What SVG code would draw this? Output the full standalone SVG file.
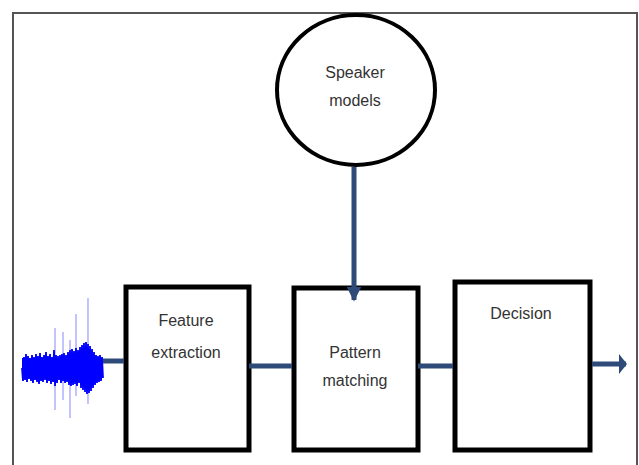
<svg xmlns="http://www.w3.org/2000/svg" width="639" height="465" viewBox="0 0 639 465">
<style>
.box{fill:#fff;stroke:#000;stroke-width:5}
.lbl{font-family:"Liberation Sans",Arial,sans-serif;font-size:16px;fill:#333;text-anchor:middle}
.conn{stroke:#2e4a78;stroke-width:5;fill:none}
</style>
<defs>
<marker id="ah" viewBox="0 0 8 20" refX="7" refY="10" markerWidth="1.6" markerHeight="4" orient="auto" markerUnits="strokeWidth">
<path d="M0,0 L8,10 L0,20 z" fill="#2e4a78"/>
</marker>
<marker id="ahv" viewBox="0 0 10 10" refX="9" refY="5" markerWidth="3" markerHeight="3" orient="auto" markerUnits="strokeWidth">
<path d="M0,0 L10,5 L0,10 z" fill="#2e4a78"/>
</marker>
</defs>
<rect x="0" y="0" width="639" height="465" fill="#fff"/>
<rect x="13" y="13" width="624" height="470" fill="none" stroke="#555" stroke-width="2"/>
<g id="speaker-models">
<ellipse cx="356" cy="90" rx="79" ry="75" fill="#fff" stroke="#000" stroke-width="4"/>
<text class="lbl" x="355" y="78">Speaker</text>
<text class="lbl" x="355" y="106">models</text>
</g>
<g id="feature-extraction">
<rect class="box" x="126" y="287" width="123" height="163"/>
<text class="lbl" x="186" y="326">Feature</text>
<text class="lbl" x="186" y="358">extraction</text>
</g>
<g id="pattern-matching">
<rect class="box" x="294" y="288" width="124" height="162"/>
<text class="lbl" x="355" y="358">Pattern</text>
<text class="lbl" x="355" y="386">matching</text>
</g>
<g id="decision">
<rect class="box" x="455" y="282" width="135" height="168"/>
<text class="lbl" x="521" y="319">Decision</text>
</g>
<g id="waveform">
<g stroke="#9a9aff" stroke-width="1.2">
<line x1="55" y1="328" x2="55" y2="410"/>
<line x1="63" y1="332" x2="63" y2="400"/>
<line x1="70" y1="340" x2="70" y2="418"/>
<line x1="76" y1="314" x2="76" y2="396"/>
<line x1="88" y1="298" x2="88" y2="404"/>
</g>
<rect x="22" y="358" width="81" height="18" fill="#0000ff"/>
<path fill="none" stroke="#0000ff" stroke-width="1.8" d="M22,368 L23,381 L24,357 L25,380 L26,354 L27,382 L28,356 L29,379 L30,358 L31,381 L32,355 L33,383 L34,357 L35,380 L36,354 L37,382 L38,356 L39,384 L40,353 L41,381 L42,357 L43,382 L44,355 L45,380 L46,352 L47,383 L48,356 L49,381 L50,354 L51,384 L52,357 L53,382 L54,350 L55,386 L56,355 L57,383 L58,356 L59,380 L60,355 L61,383 L62,354 L63,381 L64,353 L65,383 L66,355 L67,382 L68,352 L69,385 L70,350 L71,386 L72,349 L73,385 L74,351 L75,384 L76,348 L77,386 L78,350 L79,383 L80,347 L81,388 L82,345 L83,390 L84,343 L85,392 L86,342 L87,394 L88,344 L89,393 L90,346 L91,391 L92,349 L93,388 L94,352 L95,385 L96,355 L97,383 L98,356 L99,382 L100,355 L101,381 L102,357 L103,378"/>
</g>
<g id="connectors">
<line class="conn" x1="103" y1="361" x2="124" y2="361"/>
<line class="conn" x1="249" y1="366" x2="292" y2="366"/>
<line class="conn" x1="418" y1="366" x2="453" y2="366"/>
<line class="conn" x1="592" y1="364" x2="626" y2="364" marker-end="url(#ah)"/>
<line class="conn" stroke-width="3" x1="354" y1="167" x2="354" y2="300" marker-end="url(#ahv)"/>
</g>
</svg>
